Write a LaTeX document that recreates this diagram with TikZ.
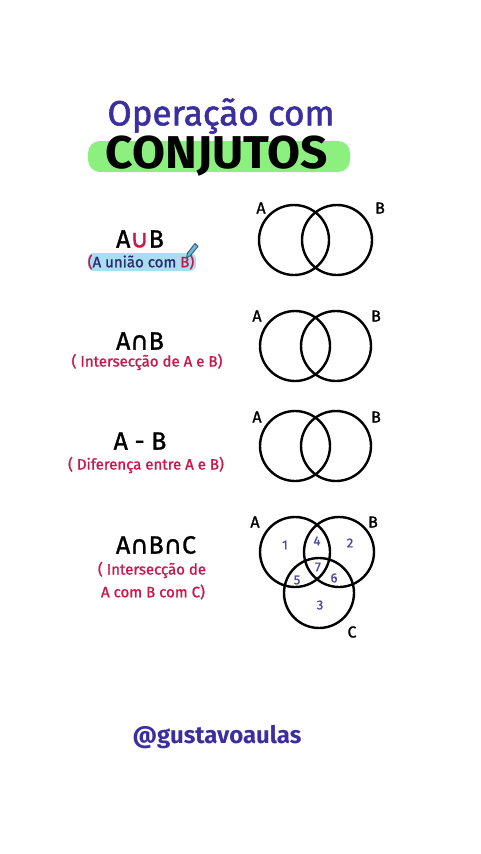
\documentclass[tikz,border=0pt]{standalone}
\usepackage{fontspec}
\setmainfont{Fira Sans}
\newfontfamily\midfont[FakeBold=1.2]{Fira Sans}
\newfontfamily\titlefont[FakeBold=1.6]{Fira Sans}
\newfontfamily\symfont[FakeBold=1.2]{DejaVu Sans}
\definecolor{titlepurple}{HTML}{3B2FA0}
\definecolor{hlgreen}{HTML}{8CF07E}
\definecolor{hlblue}{HTML}{A9DDF0}
\definecolor{crim}{HTML}{C8174A}
\definecolor{navy}{HTML}{2B2B6E}
\definecolor{numpurple}{HTML}{4B4A9E}
\definecolor{pencil}{HTML}{6FB6D8}
\definecolor{pencilline}{HTML}{1F5A6E}
\begin{document}
\begin{tikzpicture}[x=1pt,y=-1pt,
  venn/.style={draw=black, line width=2.4pt, circle, minimum size=70pt, inner sep=0pt},
  setlabel/.style={font=\midfont\fontsize{16}{16}\selectfont, inner sep=0pt},
  optext/.style={font=\midfont\fontsize{25}{25}\selectfont, inner sep=0pt},
  subtext/.style={text=crim, font=\midfont\fontsize{15}{16}\selectfont, inner sep=0pt, align=center},
  numtext/.style={text=numpurple, font=\midfont\fontsize{13}{13}\selectfont, inner sep=0pt}]
\useasboundingbox[fill=white] (0,0) rectangle (480,854);
% title
\fill[hlgreen, rounded corners=12pt] (88,141) rectangle (350,172);
\node[text=titlepurple, font=\titlefont\fontsize{35}{35}\selectfont, inner sep=0pt] (t1) at (221,116) {Operação com};
\node[text=black, font=\bfseries\fontsize{46}{46}\selectfont, inner sep=0pt] (t2) at (217,156) {\scalebox{1.04}[1]{CONJUTOS}};
% row 1
\fill[hlblue, rounded corners=6pt] (88,253) rectangle (196,271);
\node[optext] (op1) at (140,239) {A{\symfont\color{crim}∪}B};
\node[subtext] (s1) at (141,262) {(\textcolor{navy}{A união com} B)};
\filldraw[fill=pencil, draw=pencilline, line width=0.8pt, line join=round]
  (186.5,258) -- (187.5,253) -- (195,243.5) -- (198,246.5) -- (190.5,255.5) -- cycle;
\node[venn] (a1) at (294,240) {};
\node[venn] (b1) at (337,240) {};
\node[setlabel] (la1) at (261,208) {A};
\node[setlabel] (lb1) at (380,208) {B};
% row 2
\node[optext] (op2) at (140,341) {A{\symfont∩}B};
\node[subtext] (s2) at (147,362) {( Intersecção de A e B)};
\node[venn] (a2) at (295,346) {};
\node[venn] (b2) at (336,346) {};
\node[setlabel] (la2) at (257,316) {A};
\node[setlabel] (lb2) at (376,316) {B};
% row 3
\node[optext] (op3) at (140,441) {A - B};
\node[subtext] (s3) at (146,465) {( Diferença entre A e B)};
\node[venn] (a3) at (295,446) {};
\node[venn] (b3) at (336,446) {};
\node[setlabel] (la3) at (257,417) {A};
\node[setlabel] (lb3) at (376,417) {B};
% row 4
\node[optext] (op4) at (156,545) {A{\symfont∩}B{\symfont∩}C};
\node[subtext] (s4) at (152,570) {( Intersecção de};
\node[subtext] (s5) at (153,592) {A com B com C)};
\node[venn] (a4) at (295,552) {};
\node[venn] (b4) at (339,552) {};
\node[venn] (c4) at (319,593) {};
\node[setlabel] (la4) at (255,522) {A};
\node[setlabel] (lb4) at (373,522) {B};
\node[setlabel] (lc4) at (352,632) {C};
\node[numtext] (n1) at (285,545) {1};
\node[numtext] (n4) at (317,541) {4};
\node[numtext] (n2) at (350,543) {2};
\node[numtext] (n7) at (318,567) {7};
\node[numtext] (n5) at (297,580) {5};
\node[numtext] (n6) at (334,578) {6};
\node[numtext] (n3) at (320,605) {3};
% footer
\node[text=titlepurple, font=\bfseries\fontsize{24}{24}\selectfont, inner sep=0pt] (ft) at (217,737) {@gustavoaulas};
\end{tikzpicture}
\end{document}
